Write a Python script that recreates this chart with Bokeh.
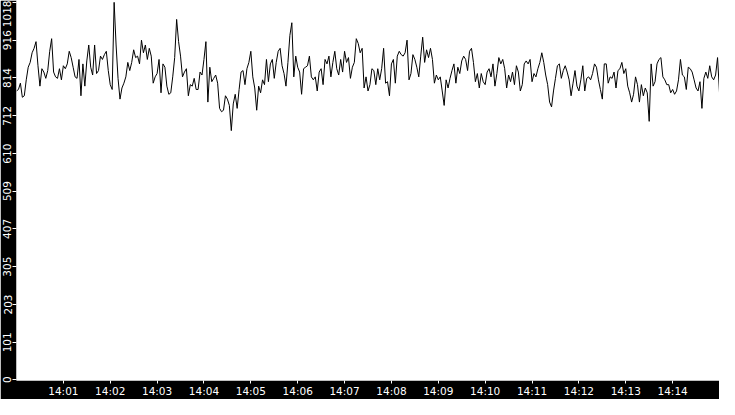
import numpy as np
import pandas as pd
from bokeh.plotting import figure
from bokeh.models import Range1d, FixedTicker, DatetimeTickFormatter
from bokeh.embed import file_html
from bokeh.resources import INLINE

# Sampled readings (segments of the recording, left to right)
seg1 = [779, 783, 800, 762, 766, 809, 843, 856, 882, 894, 912, 847, 792, 839, 830, 813, 834, 886, 920, 830,
        817, 813, 839, 809, 847, 839, 852, 886, 869, 843, 817, 813, 864, 766, 852, 792, 860, 903, 843, 822]
seg2 = [903, 826, 834, 873, 864, 877, 886, 834, 796, 783, 1018, 903, 813, 757, 787, 800, 817, 856, 834, 856,
        890, 869, 873, 852, 916, 882, 903, 864, 894, 873, 800, 817, 826, 864, 774, 852, 843, 792, 770, 774]
seg3 = [817, 869, 972, 912, 873, 817, 830, 839, 766, 796, 792, 813, 783, 783, 830, 822, 864, 912, 749, 843,
        804, 813, 822, 800, 732, 723, 727, 766, 757, 740, 672, 744, 770, 732, 783, 830, 834, 796, 839, 856]
seg4 = [886, 817, 787, 727, 792, 774, 809, 796, 864, 804, 852, 864, 813, 856, 886, 894, 847, 826, 792, 856,
        929, 963, 817, 873, 843, 830, 770, 839, 843, 847, 873, 817, 809, 817, 779, 830, 839, 796, 864, 852]
seg5 = [873, 817, 856, 886, 839, 822, 864, 830, 886, 856, 869, 813, 843, 856, 920, 907, 882, 894, 787, 817,
        779, 796, 839, 834, 796, 839, 809, 839, 894, 800, 804, 766, 852, 864, 800, 873, 886, 877, 873, 882]
seg6 = [916, 809, 826, 877, 864, 843, 817, 873, 924, 856, 890, 869, 894, 864, 800, 822, 809, 817, 779, 740,
        809, 787, 813, 834, 852, 800, 843, 826, 860, 873, 864, 834, 886, 894, 856, 804, 826, 787, 826, 804]
seg7 = [796, 830, 839, 817, 852, 792, 826, 869, 852, 864, 839, 787, 822, 804, 830, 796, 847, 830, 779, 796,
        852, 860, 852, 864, 804, 826, 817, 839, 856, 882, 856, 822, 796, 749, 736, 779, 813, 847, 852, 813]
seg8 = [834, 847, 830, 809, 766, 800, 834, 792, 779, 809, 847, 779, 813, 817, 809, 826, 852, 843, 809, 783,
        757, 852, 852, 800, 817, 813, 830, 787, 834, 839, 856, 826, 839, 792, 774, 749, 770, 817, 796, 749]
seg9 = [796, 766, 787, 774, 697, 852, 792, 804, 852, 864, 869, 817, 809, 796, 796, 774, 783, 770, 779, 809,
        864, 822, 817, 783, 843, 839, 830, 809, 787, 779, 804, 732, 813, 830, 813, 847, 817, 809, 822, 869, 774]
values = seg1 + seg2 + seg3 + seg4 + seg5 + seg6 + seg7 + seg8 + seg9

start = pd.Timestamp("2024-01-01 14:00:00")
end = pd.Timestamp("2024-01-01 14:15:00")
times = pd.date_range(start, end, periods=len(values))

y_tick_labels = [0, 101, 203, 305, 407, 509, 610, 712, 814, 916, 1018]
x_tick_times = pd.date_range("2024-01-01 14:01:00", "2024-01-01 14:14:00", freq="1min")

p = figure(width=719, height=399, x_axis_type="datetime",
           output_backend="svg", toolbar_location=None,
           x_range=Range1d(start, end), y_range=Range1d(-2, 1023),
           min_border_left=0, min_border_right=0, min_border_top=0, min_border_bottom=0)

p.line(times, values, line_color="black", line_width=1)

p.background_fill_color = "white"
p.border_fill_color = "black"
p.outline_line_color = None
p.xgrid.visible = False
p.ygrid.visible = False

for ax in (p.xaxis[0], p.yaxis[0]):
    ax.axis_line_color = None
    ax.major_tick_line_color = "white"
    ax.major_tick_out = 4
    ax.major_tick_in = 0
    ax.minor_tick_line_color = None
    ax.major_label_text_color = "white"
    ax.major_label_text_font = "DejaVu Sans"
    ax.major_label_text_font_size = "10.5px"
    ax.major_label_standoff = 1

p.xaxis[0].major_tick_out = 3
p.yaxis[0].ticker = FixedTicker(ticks=y_tick_labels)
p.yaxis[0].major_label_orientation = "vertical"
p.xaxis[0].ticker = FixedTicker(ticks=[t.value / 1e6 for t in x_tick_times])
p.xaxis[0].formatter = DatetimeTickFormatter(minutes="%H:%M", hours="%H:%M", seconds="%H:%M", minsec="%H:%M")

open("out.html", "w").write(file_html(p, INLINE))
